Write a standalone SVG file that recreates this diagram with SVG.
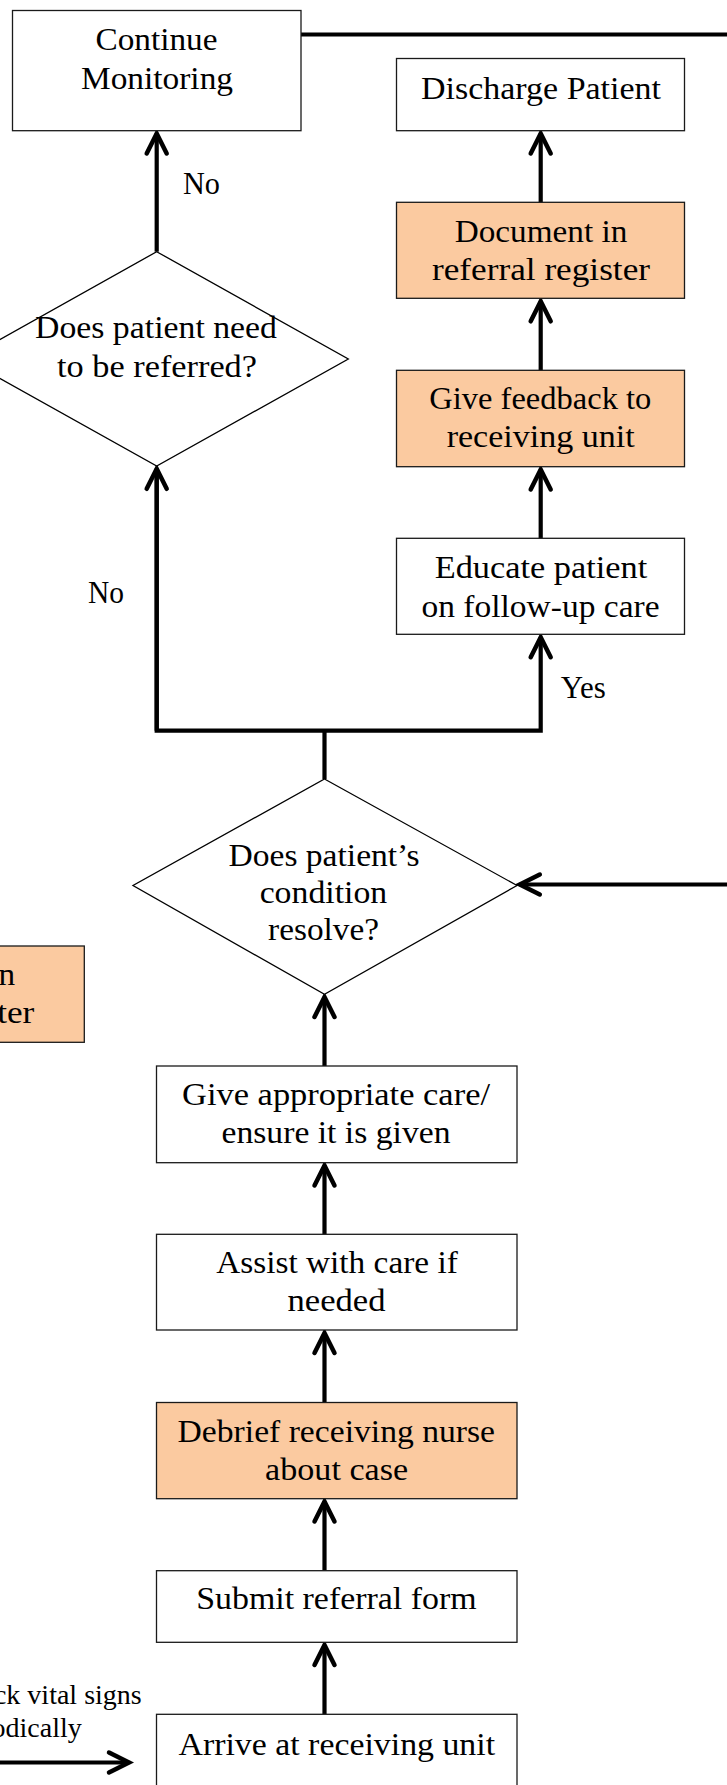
<svg xmlns="http://www.w3.org/2000/svg" width="727" height="1785" viewBox="0 0 727 1785">
<style>
.box{fill:#ffffff;stroke:#1a1a1a;stroke-width:1.3}
.hl{fill:#FBCAA0;stroke:#1a1a1a;stroke-width:1.3}
.dia{fill:#ffffff;stroke:#000;stroke-width:1.3}
.t{font-family:"Liberation Serif","Times New Roman",serif;font-size:32px;fill:#000;text-anchor:middle}
.l{font-family:"Liberation Serif","Times New Roman",serif;font-size:32px;fill:#000}
.s{font-family:"Liberation Serif","Times New Roman",serif;font-size:28px;fill:#000;text-anchor:end}
.c{fill:none;stroke:#000;stroke-width:4.2;stroke-linejoin:miter}
.ah{fill:none;stroke:#000;stroke-width:4.5;stroke-linecap:round;stroke-linejoin:miter}
</style>
<defs>
<marker id="arr" markerUnits="userSpaceOnUse" viewBox="-25 -14 28 28" refX="0" refY="0" markerWidth="28" markerHeight="28" orient="auto" overflow="visible">
<path class="ah" d="M-20,-10 L0,0 L-20,10"/>
</marker>
</defs>

<g id="connectors">
<path class="c" d="M301,34.5 H727"/>
<path class="c" d="M156.7,251.7 V133.5" marker-end="url(#arr)"/>
<path class="c" d="M540.7,202.3 V133.5" marker-end="url(#arr)"/>
<path class="c" d="M540.7,370.3 V301.3" marker-end="url(#arr)"/>
<path class="c" d="M540.7,538.3 V469.5" marker-end="url(#arr)"/>
<path class="c" d="M156.7,468.8 V730.7 H540.7 V637.2" marker-end="url(#arr)"/>
<path class="c" d="M156.7,730.7 V468.8" marker-end="url(#arr)"/>
<path class="c" d="M324.5,730.7 V779"/>
<path class="c" d="M727,884.5 H519.8" marker-end="url(#arr)"/>
<path class="c" d="M324.5,1066 V997" marker-end="url(#arr)"/>
<path class="c" d="M324.5,1234.3 V1165.5" marker-end="url(#arr)"/>
<path class="c" d="M324.5,1402.5 V1333" marker-end="url(#arr)"/>
<path class="c" d="M324.5,1570.7 V1501.5" marker-end="url(#arr)"/>
<path class="c" d="M324.5,1714.3 V1645" marker-end="url(#arr)"/>
<path class="c" d="M-5,1762.5 H129" marker-end="url(#arr)"/>
</g>

<g id="continue-monitoring">
<rect class="box" x="12.5" y="10.5" width="288.5" height="120.2"/>
<text class="t" x="156.5" y="50" textLength="122" lengthAdjust="spacingAndGlyphs">Continue</text>
<text class="t" x="157" y="89" textLength="152" lengthAdjust="spacingAndGlyphs">Monitoring</text>
</g>
<g id="label-no-top"><text class="l" x="183" y="194" textLength="37" lengthAdjust="spacingAndGlyphs">No</text></g>

<g id="discharge-patient">
<rect class="box" x="396.5" y="58.5" width="288" height="72.2"/>
<text class="t" x="541" y="99" textLength="240" lengthAdjust="spacingAndGlyphs">Discharge Patient</text>
</g>

<g id="document-register">
<rect class="hl" x="396.5" y="202.3" width="288" height="96"/>
<text class="t" x="541" y="241.5" textLength="172.7" lengthAdjust="spacingAndGlyphs">Document in</text>
<text class="t" x="541" y="280" textLength="218" lengthAdjust="spacingAndGlyphs">referral register</text>
</g>

<g id="give-feedback">
<rect class="hl" x="396.5" y="370.3" width="288" height="96.4"/>
<text class="t" x="540.3" y="409.3" textLength="222" lengthAdjust="spacingAndGlyphs">Give feedback to</text>
<text class="t" x="540.7" y="446.7" textLength="188" lengthAdjust="spacingAndGlyphs">receiving unit</text>
</g>

<g id="educate-patient">
<rect class="box" x="396.5" y="538.3" width="288" height="96"/>
<text class="t" x="541" y="578.3" textLength="212.6" lengthAdjust="spacingAndGlyphs">Educate patient</text>
<text class="t" x="540.5" y="616.7" textLength="238" lengthAdjust="spacingAndGlyphs">on follow-up care</text>
</g>
<g id="label-yes"><text class="l" x="560.7" y="698.3" textLength="45" lengthAdjust="spacingAndGlyphs">Yes</text></g>
<g id="label-no-mid"><text class="l" x="88" y="602.7" textLength="36" lengthAdjust="spacingAndGlyphs">No</text></g>

<g id="need-referral">
<polygon class="dia" points="156.7,251.7 348.3,359 156.7,466 -35,359"/>
<text class="t" x="156" y="338" textLength="242" lengthAdjust="spacingAndGlyphs">Does patient need</text>
<text class="t" x="157" y="377" textLength="200" lengthAdjust="spacingAndGlyphs">to be referred?</text>
</g>

<g id="condition-resolve">
<polygon class="dia" points="324.5,779 517,885.5 324.5,994.3 133,885.5"/>
<text class="t" x="324" y="866" textLength="191" lengthAdjust="spacingAndGlyphs">Does patient’s</text>
<text class="t" x="323.4" y="903.3" textLength="127.5" lengthAdjust="spacingAndGlyphs">condition</text>
<text class="t" x="323.6" y="940" textLength="111" lengthAdjust="spacingAndGlyphs">resolve?</text>
</g>

<g id="document-register-left">
<rect class="hl" x="-230" y="946" width="314.3" height="96.3"/>
<text class="l" x="15" y="985" text-anchor="end" textLength="172.7" lengthAdjust="spacingAndGlyphs">Document in</text>
<text class="l" x="34.3" y="1023.3" text-anchor="end" textLength="218" lengthAdjust="spacingAndGlyphs">referral register</text>
</g>

<g id="give-care">
<rect class="box" x="156.5" y="1066" width="360.5" height="96.7"/>
<text class="t" x="336" y="1105" textLength="308" lengthAdjust="spacingAndGlyphs">Give appropriate care/</text>
<text class="t" x="336" y="1143.3" textLength="229" lengthAdjust="spacingAndGlyphs">ensure it is given</text>
</g>

<g id="assist-care">
<rect class="box" x="156.5" y="1234.3" width="360.5" height="95.7"/>
<text class="t" x="337" y="1273.3" textLength="241.5" lengthAdjust="spacingAndGlyphs">Assist with care if</text>
<text class="t" x="336.5" y="1311" textLength="98" lengthAdjust="spacingAndGlyphs">needed</text>
</g>

<g id="debrief-nurse">
<rect class="hl" x="156.5" y="1402.5" width="360.5" height="96.2"/>
<text class="t" x="336.3" y="1441.7" textLength="317.5" lengthAdjust="spacingAndGlyphs">Debrief receiving nurse</text>
<text class="t" x="336.6" y="1480" textLength="143" lengthAdjust="spacingAndGlyphs">about case</text>
</g>

<g id="submit-form">
<rect class="box" x="156.5" y="1570.7" width="360.5" height="71.6"/>
<text class="t" x="336.4" y="1609.3" textLength="280.5" lengthAdjust="spacingAndGlyphs">Submit referral form</text>
</g>

<g id="arrive-unit">
<rect class="box" x="156.5" y="1714.3" width="360.5" height="90"/>
<text class="t" x="336.8" y="1755" textLength="316.6" lengthAdjust="spacingAndGlyphs">Arrive at receiving unit</text>
</g>

<g id="check-vitals">
<text class="s" x="141.7" y="1704">Check vital signs</text>
<text class="s" x="81.7" y="1737.3">periodically</text>
</g>
</svg>
